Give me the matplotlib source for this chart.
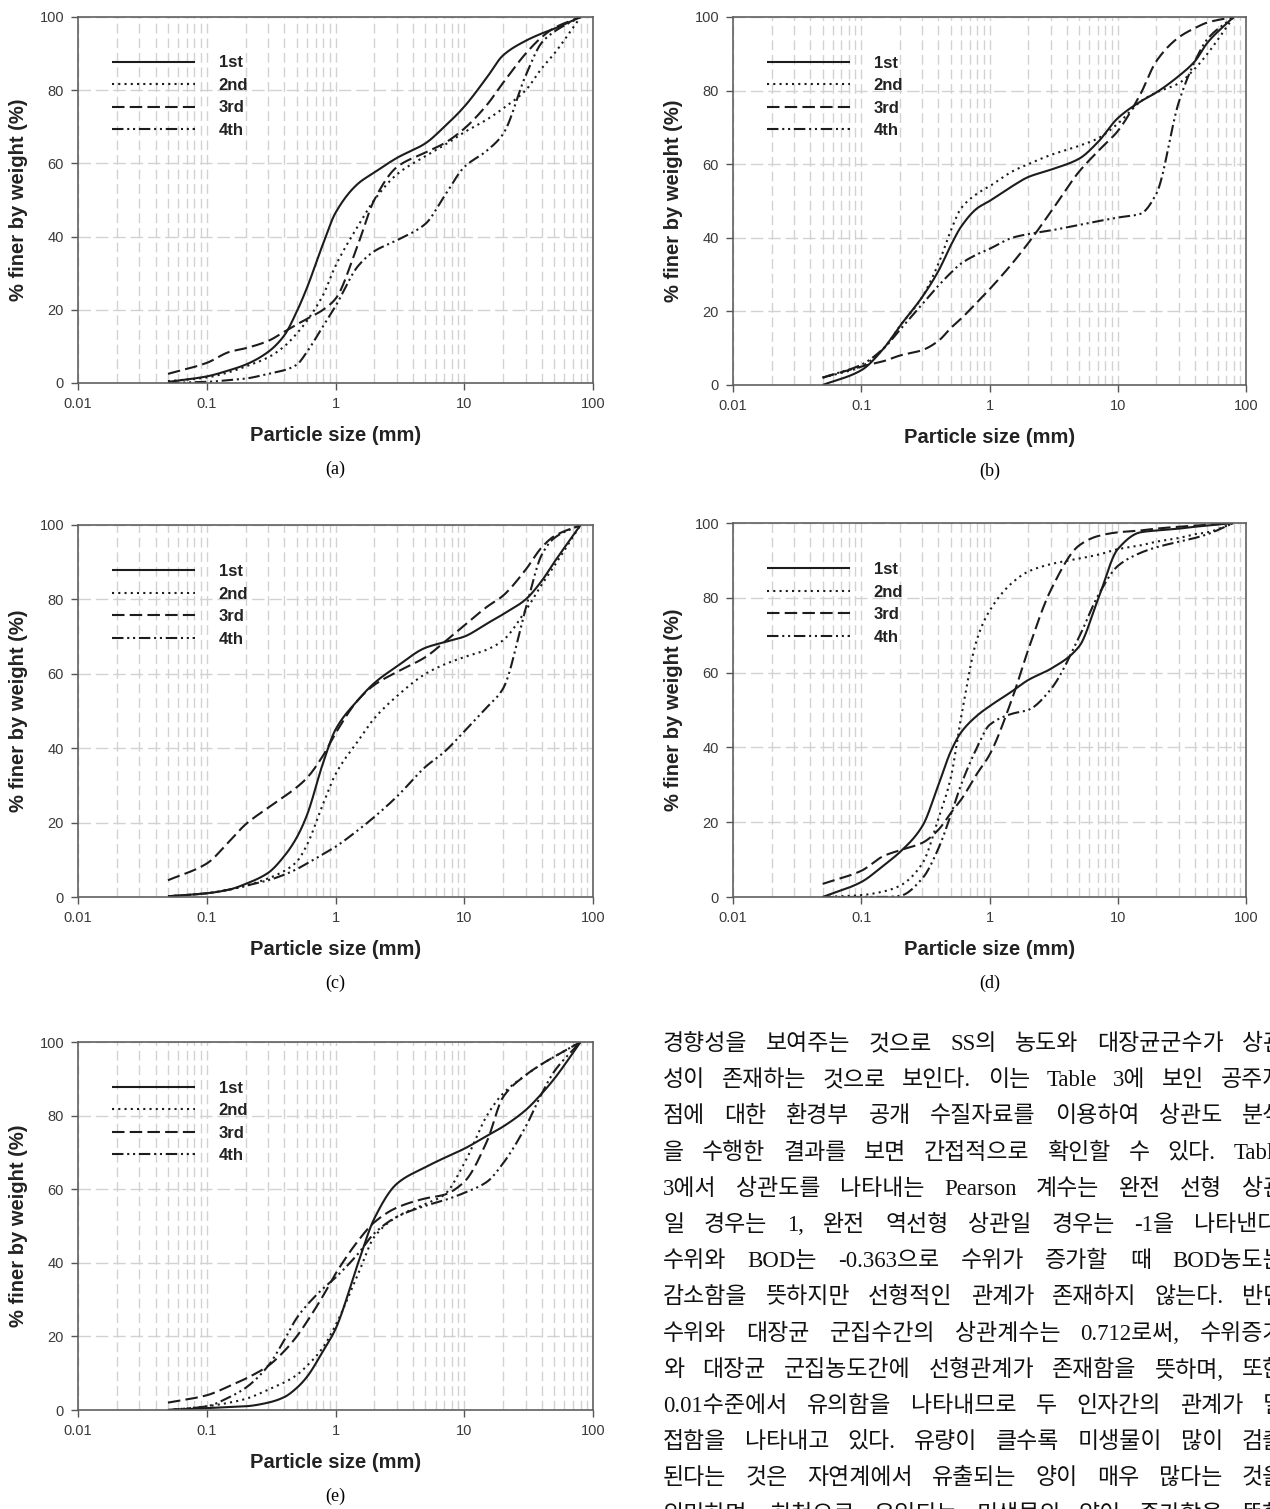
import numpy as np
import matplotlib
matplotlib.use("Agg")
import matplotlib.pyplot as plt
from matplotlib.ticker import LogLocator, NullFormatter

plt.rcParams['font.family'] = ['Liberation Sans', 'DejaVu Sans']

# sieve sizes (mm) used for every panel
SIZES = [0.05, 0.1, 0.15, 0.2, 0.3, 0.4, 0.5, 0.6, 0.8, 1, 1.5, 2, 3, 5, 7, 10, 15, 20, 30, 40, 50, 80]
SERIES = ['1st', '2nd', '3rd', '4th']

# % finer by weight
A_1ST = [0.3, 1.8, 3.5, 5, 8.5, 13, 19.5, 26, 38, 46.5, 54.5, 57.5, 61.5, 65.5, 70, 75.5, 83.5, 89.5, 93.5, 95.5, 96.8, 100]
A_2ND = [0.5, 1.5, 3, 4.5, 7, 10, 13.5, 17, 24, 32, 43, 50, 57, 62, 65, 68.5, 72, 75, 80, 86, 90, 100]
A_3RD = [2.5, 5.5, 8.5, 9.5, 11.5, 14, 16, 17.5, 20, 23, 38, 50, 59, 63, 65.5, 69.5, 76, 82, 90, 94.5, 97, 100]
A_4TH = [0, 0.3, 0.8, 1.2, 2.5, 3.5, 5, 8.5, 15.5, 21, 32, 36, 39, 43.5, 51, 59, 63.5, 68, 84, 93, 96, 100]

B_1ST = [0, 4, 10, 16, 24, 31, 38, 43, 48, 50, 54, 56.5, 58.5, 61.5, 66, 72.5, 77, 79.5, 84, 88, 93, 100]
B_2ND = [2, 5, 10, 16, 24, 33, 42, 48, 52, 54, 58, 60, 62.5, 65, 67, 71, 77, 79.5, 82, 86, 90, 100]
B_3RD = [2, 5, 6.5, 8, 9.5, 12, 15.5, 18, 22.5, 26, 33, 38.5, 47, 58, 63.5, 69, 79, 88, 94.5, 97, 98.5, 100]
B_4TH = [2, 5.5, 10, 15, 22, 27, 30.5, 33, 35.5, 37, 40, 41, 42, 43.5, 44.5, 45.5, 46.5, 52, 77, 88, 94, 100]

C_1ST = [0.2, 1, 2, 3.5, 6.5, 11, 16, 22, 36, 45, 53, 57.5, 62, 67, 68.5, 70, 73.5, 76, 80, 85, 90, 100]
C_2ND = [0.2, 1, 2, 3, 5, 7, 9.5, 14, 25, 33, 42, 48, 54, 60, 62.5, 64.5, 66.5, 69, 77, 84, 89, 100]
C_3RD = [4.5, 9, 15, 19.5, 24, 27, 29.5, 32, 38, 44, 53, 57, 60.5, 64.5, 68.5, 73, 78, 81, 88, 94, 97, 100]
C_4TH = [0.2, 1, 2, 3, 4.5, 6, 7.5, 9, 11.5, 13.5, 18, 21.5, 27, 35, 39, 44.5, 51, 56, 77.5, 92, 96.5, 100]

D_1ST = [0, 4, 8.5, 12, 19, 30, 39, 44, 48.5, 51, 55, 58, 61, 67, 79.5, 93, 97.5, 98, 98.5, 99, 99.3, 100]
D_2ND = [0, 0.5, 1.5, 3, 9, 21, 32, 48, 69, 76.5, 84, 87, 89, 90.5, 91.5, 93, 94, 95, 96, 97, 97.5, 100]
D_3RD = [3.5, 7, 11, 12.5, 14.5, 18, 22.5, 26, 33, 38, 53, 66, 82, 94, 96.5, 97.5, 98, 98.5, 99, 99.3, 99.5, 100]
D_4TH = [0, 0, 0, 0.3, 5, 13, 22, 30, 40, 46, 49, 50, 55.5, 69.5, 80.5, 88.5, 92, 93.5, 95, 96, 97, 100]

E_1ST = [0, 0.5, 0.8, 1, 2, 3.5, 6, 9, 16, 22, 40, 52, 61.5, 66, 68.5, 71, 74.5, 77, 81.5, 86, 90, 100]
E_2ND = [0, 1, 2, 3, 5.5, 7.5, 9.5, 12, 17, 23, 37, 47, 52.5, 56, 58.5, 67, 80, 86, 91, 94, 96, 100]
E_3RD = [2, 4, 6.5, 8.5, 12, 16, 20, 24, 31, 37, 46, 51, 55, 57.5, 58.5, 62, 73, 85, 91, 94, 96, 100]
E_4TH = [0, 1, 3.5, 6, 12, 19, 25, 28.5, 33, 36, 42.5, 48, 52.5, 55.5, 57, 59, 62, 67, 77, 86, 92, 100]

PANELS = [
    ('(a)', [A_1ST, A_2ND, A_3RD, A_4TH]),
    ('(b)', [B_1ST, B_2ND, B_3RD, B_4TH]),
    ('(c)', [C_1ST, C_2ND, C_3RD, C_4TH]),
    ('(d)', [D_1ST, D_2ND, D_3RD, D_4TH]),
    ('(e)', [E_1ST, E_2ND, E_3RD, E_4TH]),
]

BODY_LINES = [
    "경향성을 보여주는 것으로 SS의 농도와 대장균군수가 상관",
    "성이 존재하는 것으로 보인다. 이는 Table 3에 보인 공주지",
    "점에 대한 환경부 공개 수질자료를 이용하여 상관도 분석",
    "을 수행한 결과를 보면 간접적으로 확인할 수 있다. Table",
    "3에서 상관도를 나타내는 Pearson 계수는 완전 선형 상관",
    "일 경우는 1, 완전 역선형 상관일 경우는 -1을 나타낸다.",
    "수위와 BOD는 -0.363으로 수위가 증가할 때 BOD농도는",
    "감소함을 뜻하지만 선형적인 관계가 존재하지 않는다. 반면",
    "수위와 대장균 군집수간의 상관계수는 0.712로써, 수위증가",
    "와 대장균 군집농도간에 선형관계가 존재함을 뜻하며, 또한",
    "0.01수준에서 유의함을 나타내므로 두 인자간의 관계가 밀",
    "접함을 나타내고 있다. 유량이 클수록 미생물이 많이 검출",
    "된다는 것은 자연계에서 유출되는 양이 매우 많다는 것을",
    "의미하며, 하천으로 유입되는 미생물의 양이 증가함을 뜻한",
]

W, H = 1270, 1509
STYLES = ['-', (0, (1, 2)), (0, (6, 2.5)), (0, (5.5, 1.8, 1, 1.8, 1, 1.8))]
INK = '#1c1c1c'


def pchip(x, y, xn):
    # monotone cubic, to draw the smoothed curves like the spreadsheet did
    h = np.diff(x)
    d = np.diff(y) / h
    m = np.zeros_like(y)
    m[0], m[-1] = d[0], d[-1]
    for k in range(1, len(x) - 1):
        if d[k - 1] * d[k] > 0:
            w1 = 2 * h[k] + h[k - 1]
            w2 = h[k] + 2 * h[k - 1]
            m[k] = (w1 + w2) / (w1 / d[k - 1] + w2 / d[k])
    idx = np.clip(np.searchsorted(x, xn) - 1, 0, len(x) - 2)
    t = (xn - x[idx]) / h[idx]
    h00 = 2 * t**3 - 3 * t**2 + 1
    h10 = t**3 - 2 * t**2 + t
    h01 = -2 * t**3 + 3 * t**2
    h11 = t**3 - t**2
    return h00 * y[idx] + h10 * h[idx] * m[idx] + h01 * y[idx + 1] + h11 * h[idx] * m[idx + 1]


def px_axes(left, top, right, bottom):
    return fig.add_axes([left / W, 1 - bottom / H, (right - left) / W, (bottom - top) / H])


fig = plt.figure(figsize=(W / 100, H / 100), dpi=100)

boxes = [(78, 17, 593, 383), (733, 17, 1246, 385),
         (78, 525, 593, 897), (733, 523, 1246, 897),
         (78, 1042, 593, 1410)]

lx = np.log10(np.array(SIZES))
for (caption, series), box in zip(PANELS, boxes):
    ax = px_axes(*box)
    xs = np.linspace(lx[0], lx[-1], 600)
    for name, vals, ls in zip(SERIES, series, STYLES):
        ys = pchip(lx, np.array(vals, dtype=float), xs)
        ax.plot(10**xs, ys, color=INK, lw=1.5, linestyle=ls, label=name,
                solid_capstyle='butt', dash_capstyle='butt')
    ax.set_xscale('log')
    ax.set_xlim(0.01, 100)
    ax.set_ylim(0, 100)
    ax.set_xticks([0.01, 0.1, 1, 10, 100])
    ax.set_xticklabels(['0.01', '0.1', '1', '10', '100'])
    ax.xaxis.set_minor_locator(LogLocator(base=10, subs=np.arange(2, 10)))
    ax.xaxis.set_minor_formatter(NullFormatter())
    ax.set_yticks([0, 20, 40, 60, 80, 100])
    ax.tick_params(which='major', direction='out', length=5, width=1, color='#555555',
                   labelcolor='#3a3a3a', labelsize=10.5, pad=5)
    ax.tick_params(which='minor', length=0)
    ax.grid(which='both', axis='x', color='#d2d2d2', lw=1, linestyle=(0, (7, 3.5)))
    ax.grid(which='major', axis='y', color='#d2d2d2', lw=1, linestyle=(0, (9, 3.5)))
    ax.set_axisbelow(True)
    for sp in ax.spines.values():
        sp.set_color('#606060')
        sp.set_linewidth(1.2)
    ax.set_xlabel('Particle size (mm)', fontsize=14.5, fontweight='bold', color='#222222', labelpad=11)
    ax.set_ylabel('% finer by weight (%)', fontsize=14.5, fontweight='bold', color='#222222', labelpad=8)
    leg = ax.legend(loc='upper left', bbox_to_anchor=(0.066, 0.895), frameon=False,
                    handlelength=5.0, handletextpad=1.4, labelspacing=0.45,
                    borderpad=0, borderaxespad=0,
                    prop={'weight': 'bold', 'size': 12})
    for t in leg.get_texts():
        t.set_color('#222222')
    l, t, r, b = box
    fig.text((l + r) / 2 / W, 1 - (b + 86) / H, caption, ha='center', va='center',
             fontsize=13, family=['Liberation Serif'])

# body text column, justified
renderer = fig.canvas.get_renderer()
LEFT, RIGHT = 663, 1284
for i, line in enumerate(BODY_LINES):
    yy = 1 - (1042 + 36.2 * i) / H
    words = line.split(' ')
    texts = [fig.text(0, yy, w, fontsize=16.5, va='center_baseline', color='#111111',
                      family=['Liberation Serif', 'Noto Sans CJK KR']) for w in words]
    widths = [tx.get_window_extent(renderer).width for tx in texts]
    gap = (RIGHT - LEFT - sum(widths)) / (len(words) - 1)
    x = LEFT
    for tx, w in zip(texts, widths):
        tx.set_x(x / W)
        x += w + gap

fig.savefig('out.png', dpi=100)
